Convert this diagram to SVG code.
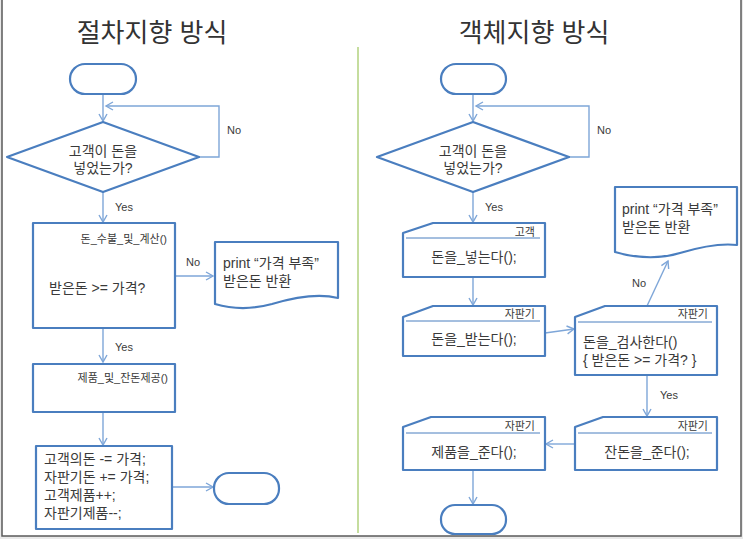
<svg xmlns="http://www.w3.org/2000/svg" width="743" height="539" viewBox="0 0 743 539">
<defs>
<style>
.shape{fill:#fff;stroke:#4A7EBF;stroke-width:2.2;stroke-linejoin:round}
.sep{stroke:#4A7EBF;stroke-width:1;fill:none}
.conn{fill:none;stroke:#7EA6D8;stroke-width:1.4}
text{font-family:"Liberation Sans","Noto Sans CJK KR",sans-serif;fill:#3A3A3A}
.t{font-size:14px}
.s{font-size:11px}
.title{font-size:26px;fill:#333}
</style>
<marker id="arr" markerWidth="10" markerHeight="10" refX="8" refY="5" orient="auto" markerUnits="userSpaceOnUse">
<path d="M1,1 L8,5 L1,9" fill="none" stroke="#7EA6D8" stroke-width="1.4"/>
</marker>
</defs>
<rect x="0" y="0" width="743" height="539" fill="#E9E9E9"/>
<rect x="2" y="-2" width="739" height="538" fill="#fff" stroke="#5A5A5A" stroke-width="1.5"/>
<line x1="358" y1="47" x2="358" y2="533" stroke="#A6CB6A" stroke-width="1.3"/>
<text class="title" x="152" y="42" text-anchor="middle">절차지향 방식</text>
<text class="title" x="534" y="42" text-anchor="middle">객체지향 방식</text>

<g id="connectors">
<line class="conn" x1="103" y1="94" x2="103" y2="121" marker-end="url(#arr)"/>
<polyline class="conn" points="199,157 219,157 219,106 106,106" marker-end="url(#arr)"/>
<line class="conn" x1="103" y1="192" x2="103" y2="222" marker-end="url(#arr)"/>
<line class="conn" x1="175" y1="276" x2="213" y2="276" marker-end="url(#arr)"/>
<line class="conn" x1="103" y1="328" x2="103" y2="362" marker-end="url(#arr)"/>
<line class="conn" x1="103" y1="412" x2="103" y2="445" marker-end="url(#arr)"/>
<line class="conn" x1="172" y1="487" x2="213" y2="487" marker-end="url(#arr)"/>
<line class="conn" x1="473" y1="94" x2="473" y2="121" marker-end="url(#arr)"/>
<polyline class="conn" points="569,157 589,157 589,106 476,106" marker-end="url(#arr)"/>
<line class="conn" x1="473" y1="192" x2="473" y2="222" marker-end="url(#arr)"/>
<line class="conn" x1="473" y1="277" x2="473" y2="305" marker-end="url(#arr)"/>
<line class="conn" x1="545" y1="333" x2="574" y2="329" marker-end="url(#arr)"/>
<line class="conn" x1="647" y1="306" x2="668" y2="261" marker-end="url(#arr)"/>
<line class="conn" x1="647" y1="375" x2="647" y2="416" marker-end="url(#arr)"/>
<line class="conn" x1="575" y1="444" x2="546" y2="444" marker-end="url(#arr)"/>
<line class="conn" x1="473" y1="470" x2="473" y2="504" marker-end="url(#arr)"/>
<text class="s" x="227" y="134">No</text>
<text class="s" x="115" y="211">Yes</text>
<text class="s" x="186" y="266">No</text>
<text class="s" x="115" y="351">Yes</text>
<text class="s" x="597" y="134">No</text>
<text class="s" x="485" y="211">Yes</text>
<text class="s" x="632" y="287">No</text>
<text class="s" x="660" y="399">Yes</text>
</g>

<g id="L_start"><rect class="shape" x="70" y="64" width="66" height="30" rx="15"/></g>
<g id="L_decision">
<polygon class="shape" points="103,122 199,157 103,192 7,157"/>
<text class="t" text-anchor="middle"><tspan x="103" y="156">고객이 돈을</tspan><tspan x="103" y="173">넣었는가?</tspan></text>
</g>
<g id="L_calc">
<rect class="shape" x="33" y="223" width="142" height="105"/>
<text class="s" x="167" y="243" text-anchor="end">돈_수불_및_계산()</text>
<text class="t" x="49" y="293">받은돈 &gt;= 가격?</text>
</g>
<g id="L_doc">
<path class="shape" d="M215,242 H338 V298 C318,293 292,298 272,304 C250,310 232,309 215,304 Z"/>
<text class="t"><tspan x="223" y="268">print “가격 부족”</tspan><tspan x="223" y="286">받은돈 반환</tspan></text>
</g>
<g id="L_provide">
<rect class="shape" x="33" y="364" width="142" height="48"/>
<text class="s" x="168" y="382" text-anchor="end">제품_및_잔돈제공()</text>
</g>
<g id="L_update">
<rect class="shape" x="36" y="446" width="136" height="83"/>
<text class="t"><tspan x="44" y="464">고객의돈 -= 가격;</tspan><tspan x="44" y="482">자판기돈 += 가격;</tspan><tspan x="44" y="500">고객제품++;</tspan><tspan x="44" y="518">자판기제품--;</tspan></text>
</g>
<g id="L_end"><rect class="shape" x="214" y="473" width="65" height="31" rx="15"/></g>

<g id="R_start"><rect class="shape" x="441" y="64" width="65" height="30" rx="15"/></g>
<g id="R_decision">
<polygon class="shape" points="473,122 569,157 473,192 377,157"/>
<text class="t" text-anchor="middle"><tspan x="473" y="156">고객이 돈을</tspan><tspan x="473" y="173">넣었는가?</tspan></text>
</g>
<g id="R_insert">
<path class="shape" d="M433,223 H545 V277 H403 V233 Z"/>
<line class="sep" x1="406" y1="238" x2="540" y2="238"/>
<text class="s" x="535" y="236" text-anchor="end">고객</text>
<text class="t" x="474" y="262" text-anchor="middle">돈을_넣는다();</text>
</g>
<g id="R_receive">
<path class="shape" d="M433,306 H545 V356 H403 V317 Z"/>
<line class="sep" x1="406" y1="321" x2="540" y2="321"/>
<text class="s" x="535" y="318" text-anchor="end">자판기</text>
<text class="t" x="474" y="344" text-anchor="middle">돈을_받는다();</text>
</g>
<g id="R_check">
<path class="shape" d="M605,306 H717 V375 H575 V317 Z"/>
<line class="sep" x1="578" y1="322" x2="712" y2="322"/>
<text class="s" x="708" y="318" text-anchor="end">자판기</text>
<text class="t"><tspan x="583" y="347">돈을_검사한다()</tspan><tspan x="583" y="365">{ 받은돈 &gt;= 가격? }</tspan></text>
</g>
<g id="R_doc">
<path class="shape" d="M615,187 H737 V245 C720,243 700,247 680,253 C660,259 636,258 615,252 Z"/>
<text class="t"><tspan x="622" y="214">print “가격 부족”</tspan><tspan x="622" y="232">받은돈 반환</tspan></text>
</g>
<g id="R_change">
<path class="shape" d="M603,417 H717 V470 H575 V427 Z"/>
<line class="sep" x1="578" y1="433" x2="712" y2="433"/>
<text class="s" x="708" y="430" text-anchor="end">자판기</text>
<text class="t" x="647" y="457" text-anchor="middle">잔돈을_준다();</text>
</g>
<g id="R_product">
<path class="shape" d="M431,417 H545 V470 H403 V427 Z"/>
<line class="sep" x1="406" y1="433" x2="540" y2="433"/>
<text class="s" x="535" y="430" text-anchor="end">자판기</text>
<text class="t" x="474" y="457" text-anchor="middle">제품을_준다();</text>
</g>
<g id="R_end"><rect class="shape" x="441" y="505" width="65" height="29" rx="14"/></g>
</svg>
